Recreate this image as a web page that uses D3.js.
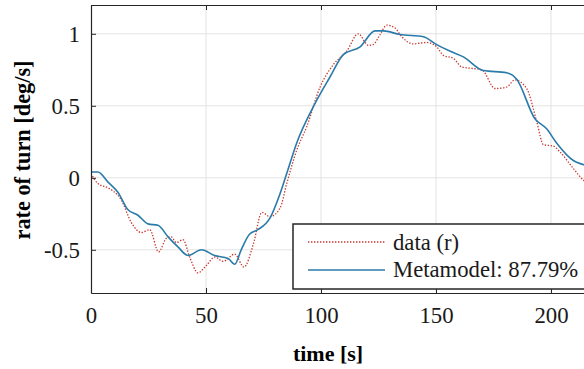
<!DOCTYPE html>
<meta charset="utf-8">
<script src="https://d3js.org/d3.v7.min.js"></script>
<style>
  body { margin: 0; background: #fff; }
  text { font-family: "Liberation Serif", "Times New Roman", serif; }
</style>
<body>
<div id="chart"></div>
<script>
// measured data (dotted red)
var dataT = [0, 3, 7.4, 9.5, 13.2, 17.5, 21.9, 25.5, 29.4, 32.8, 34.9, 37.1, 40, 42.9, 46.5, 50.1, 53.8, 57.4, 62.5, 66.5, 70.6, 74.3, 77.8, 82.2, 85.1, 89.4, 93.8, 99.6, 105.3, 111.2, 116.2, 120.6, 122.7, 125.7, 128.6, 132.2, 135.1, 140.1, 146, 150.3, 153.2, 157.5, 161.2, 165.5, 169.9, 175.7, 180.7, 184.3, 189.4, 193.8, 196.7, 201, 203.9, 209.7, 214, 218];
var dataR = [0.03, -0.04, -0.07, -0.09, -0.155, -0.31, -0.38, -0.36, -0.515, -0.42, -0.41, -0.45, -0.43, -0.55, -0.66, -0.61, -0.55, -0.58, -0.53, -0.62, -0.46, -0.24, -0.27, -0.21, -0.04, 0.19, 0.355, 0.63, 0.785, 0.88, 1.0, 0.92, 0.925, 0.995, 1.06, 1.04, 0.98, 0.93, 0.94, 0.91, 0.85, 0.83, 0.77, 0.76, 0.75, 0.62, 0.63, 0.68, 0.62, 0.39, 0.23, 0.22, 0.18, 0.065, -0.015, -0.05];

// metamodel (solid blue)
var modelT = [0, 3, 7.4, 11.7, 16, 20.4, 24.8, 29.1, 33.5, 37.8, 42.2, 48, 53.8, 59.6, 62.5, 65.3, 69, 72.6, 77.8, 82.2, 86.5, 89.4, 96.7, 103.9, 109.7, 117, 123.5, 127.1, 134.3, 144.5, 150.3, 156, 161.9, 170.6, 180.7, 185.1, 193, 198.1, 202.5, 209.7, 214.3, 218];
var modelR = [0.04, 0.04, -0.03, -0.10, -0.22, -0.26, -0.32, -0.33, -0.41, -0.48, -0.54, -0.50, -0.54, -0.56, -0.60, -0.50, -0.39, -0.36, -0.28, -0.11, 0.10, 0.24, 0.495, 0.70, 0.855, 0.91, 1.02, 1.02, 0.995, 0.98, 0.925, 0.88, 0.84, 0.745, 0.73, 0.685, 0.41, 0.34, 0.24, 0.12, 0.09, 0.07];

var xTicks = [0, 50, 100, 150, 200];
var yTicks = [-0.5, 0, 0.5, 1];
var yTickLabels = ["-0.5", "0", "0.5", "1"];
var legendNames = ["data (r)", "Metamodel: 87.79%"];

var W = 584, H = 369;
var plotLeft = 91, plotTop = 5, plotBottom = 293;

var svg = d3.select("#chart").append("svg")
    .attr("width", W)
    .attr("height", H);

var x = d3.scaleLinear().domain([0, 220]).range([plotLeft, plotLeft + 220 * 2.3]);
var y = d3.scaleLinear().domain([-0.8, 1.2]).range([plotBottom, plotTop]);

// grid
svg.append("g").selectAll("line").data(xTicks.slice(1)).enter().append("line")
    .attr("x1", d => x(d)).attr("x2", d => x(d))
    .attr("y1", plotTop).attr("y2", plotBottom)
    .attr("stroke", "#e3e3e3").attr("stroke-width", 1);
svg.append("g").selectAll("line").data(yTicks).enter().append("line")
    .attr("x1", plotLeft).attr("x2", x(220))
    .attr("y1", d => y(d)).attr("y2", d => y(d))
    .attr("stroke", "#e3e3e3").attr("stroke-width", 1);

// lines
svg.append("clipPath").attr("id", "clip").append("rect")
    .attr("x", plotLeft).attr("y", plotTop)
    .attr("width", x(220) - plotLeft).attr("height", plotBottom - plotTop);

var plot = svg.append("g").attr("clip-path", "url(#clip)");

var lineGen = d3.line()
    .x(d => x(d[0]))
    .y(d => y(d[1]))
    .curve(d3.curveMonotoneX);

plot.append("path")
    .datum(dataT.map((t, i) => [t, dataR[i]]))
    .attr("fill", "none")
    .attr("stroke", "#c83a32")
    .attr("stroke-width", 1.3)
    .attr("stroke-dasharray", "1.4,1.6")
    .attr("d", lineGen);

plot.append("path")
    .datum(modelT.map((t, i) => [t, modelR[i]]))
    .attr("fill", "none")
    .attr("stroke", "#2a7bab")
    .attr("stroke-width", 1.6)
    .attr("d", lineGen);

// axes
var xAxisB = svg.append("g")
    .attr("transform", "translate(0," + plotBottom + ")")
    .call(d3.axisBottom(x).tickValues(xTicks).tickSizeInner(-5).tickSizeOuter(0).tickPadding(14));
var xAxisT = svg.append("g")
    .attr("transform", "translate(0," + plotTop + ")")
    .call(d3.axisTop(x).tickValues(xTicks).tickSizeInner(-5).tickSizeOuter(0).tickFormat(""));
var yAxis = svg.append("g")
    .attr("transform", "translate(" + plotLeft + ",0)")
    .call(d3.axisLeft(y).tickValues(yTicks).tickSizeInner(-5).tickSizeOuter(0).tickPadding(11)
      .tickFormat((d, i) => yTickLabels[i]));

[xAxisB, xAxisT, yAxis].forEach(function(g) {
  g.select(".domain").attr("stroke", "#262626").attr("stroke-width", 1.2);
  g.selectAll(".tick line").attr("stroke", "#262626");
  g.selectAll("text").style("font-size", "22.8px").attr("fill", "#1a1a1a")
    .style("font-family", "'Liberation Serif', serif");
});
yAxis.selectAll("text").attr("dy", "0.35em");

// axis labels
svg.append("text")
    .attr("x", 328).attr("y", 361)
    .attr("text-anchor", "middle")
    .style("font-size", "22px").style("font-weight", "bold")
    .text("time [s]");

svg.append("text")
    .attr("transform", "translate(30,150) rotate(-90)")
    .attr("text-anchor", "middle")
    .style("font-size", "22.3px").style("font-weight", "bold")
    .text("rate of turn [deg/s]");

// legend
var lg = svg.append("g");
lg.append("rect")
    .attr("x", 293).attr("y", 224).attr("width", 320).attr("height", 65)
    .attr("fill", "#fff").attr("stroke", "#262626").attr("stroke-width", 1.5);
lg.append("line")
    .attr("x1", 308).attr("x2", 385).attr("y1", 242).attr("y2", 242)
    .attr("stroke", "#c83a32").attr("stroke-width", 1.3).attr("stroke-dasharray", "1.4,1.6");
lg.append("line")
    .attr("x1", 308).attr("x2", 385).attr("y1", 270).attr("y2", 270)
    .attr("stroke", "#2a7bab").attr("stroke-width", 1.6);
lg.selectAll("text.leg").data(legendNames).enter().append("text")
    .attr("class", "leg")
    .attr("x", 393).attr("y", (d, i) => 250 + i * 27)
    .style("font-size", "22.7px").attr("fill", "#1a1a1a")
    .text(d => d);
</script>
</body>
